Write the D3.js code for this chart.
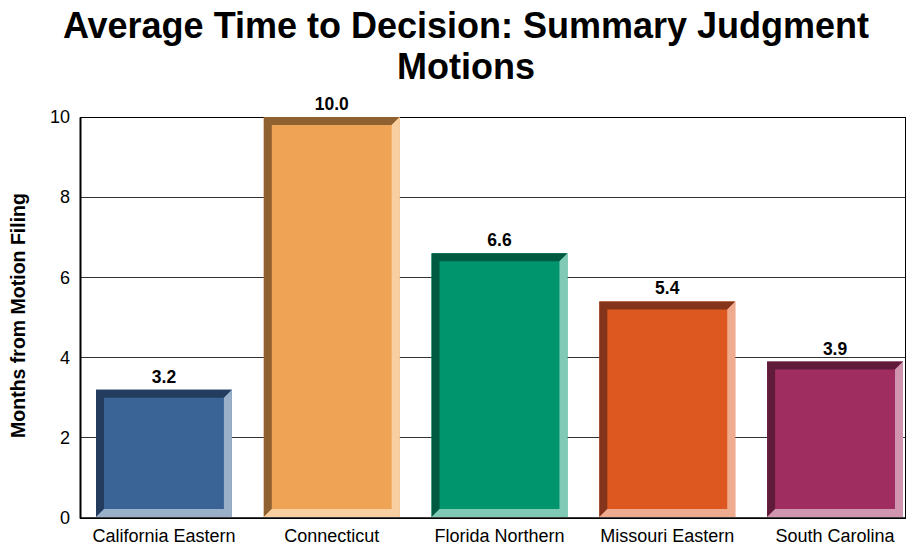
<!DOCTYPE html>
<html>
<head>
<meta charset="utf-8">
<script src="https://cdn.jsdelivr.net/npm/d3@7"></script>
<style>
  html, body { margin: 0; padding: 0; background: #fff; }
  svg { display: block; font-family: "Liberation Sans", Arial, sans-serif; }
</style>
</head>
<body>
<svg id="chart" width="914" height="548"></svg>
<script>
// Chart data
const districts = ["California Eastern", "Connecticut", "Florida Northern", "Missouri Eastern", "South Carolina"];
const months = [3.2, 10.0, 6.6, 5.4, 3.9];
const yTicks = [0, 2, 4, 6, 8, 10];
// Face, shadow (left/top) and highlight (right/bottom) colours per bar
const faceColors = ["#3a6496", "#efa355", "#00956d", "#dc5820", "#a02d60"];
const darkColors = ["#243d5e", "#8f6030", "#005a42", "#84341a", "#601b3a"];
const lightColors = ["#9ab0c8", "#f8cfa0", "#80c9b4", "#eeab90", "#d096af"];

const svg = d3.select("#chart");
const W = 914, H = 548;
const x0 = 80, x1 = 905;       // plot frame
const y0 = 518, y1 = 117;
const FONT = "Liberation Sans, Arial, sans-serif";

// Bars sit from 96 to 903 inside the frame
const x = d3.scaleBand().domain(districts).range([96, 903]).paddingInner(0.19).paddingOuter(0);
const y = d3.scaleLinear().domain([0, 10]).range([y0, y1]);

// Title
const title = svg.append("text")
  .attr("text-anchor", "middle")
  .attr("font-size", 36).attr("font-weight", "bold").attr("fill", "#000");
title.append("tspan").attr("x", 466).attr("y", 38).text("Average Time to Decision: Summary Judgment");
title.append("tspan").attr("x", 466).attr("y", 79).text("Motions");

// Gridlines
svg.append("g").selectAll("line")
  .data(yTicks.filter(t => t > 0 && t < 10))
  .join("line")
  .attr("x1", x0).attr("x2", x1)
  .attr("y1", d => y(d)).attr("y2", d => y(d))
  .attr("stroke", "#333").attr("stroke-width", 1)
  .attr("shape-rendering", "crispEdges");

// Plot frame
svg.append("rect")
  .attr("x", x0).attr("y", y1)
  .attr("width", x1 - x0).attr("height", y0 - y1)
  .attr("fill", "none").attr("stroke", "#000").attr("stroke-width", 1)
  .attr("shape-rendering", "crispEdges");

// Y axis
const yAxis = svg.append("g")
  .attr("transform", `translate(${x0},0)`)
  .call(d3.axisLeft(y).tickValues(yTicks).tickFormat(d3.format("d")).tickSize(0).tickPadding(10));
yAxis.select(".domain").attr("stroke", "#000").attr("stroke-width", 2);
yAxis.selectAll("text").attr("font-size", 18).attr("fill", "#000").attr("font-family", FONT);

// X axis
const xAxis = svg.append("g")
  .attr("transform", `translate(0,${y0})`)
  .call(d3.axisBottom(x).tickSize(0).tickPadding(11));
xAxis.select(".domain").attr("d", `M${x0},0H${x1}`).attr("stroke", "#000").attr("stroke-width", 1.5);
xAxis.selectAll("text").attr("font-size", 18).attr("fill", "#000").attr("font-family", FONT);

// Y axis title
svg.append("text")
  .attr("transform", `translate(25,${(y0 + y1) / 2 - 2}) rotate(-90)`)
  .attr("text-anchor", "middle")
  .attr("font-size", 19.5).attr("font-weight", "bold")
  .text("Months from Motion Filing");

// Bevelled bars
const bev = 8;
const bars = svg.append("g").selectAll("g")
  .data(districts.map((d, i) => ({ d, v: months[i], i })))
  .join("g");

bars.each(function (p) {
  const g = d3.select(this);
  const L = x(p.d), R = x(p.d) + x.bandwidth();
  const T = y(p.v), B = y(0) - 1;
  // face
  g.append("rect").attr("x", L).attr("y", T).attr("width", R - L).attr("height", B - T)
    .attr("fill", faceColors[p.i]);
  // left + top shadow
  g.append("polygon")
    .attr("points", [[L, B], [L, T], [R, T], [R - bev, T + bev], [L + bev, T + bev], [L + bev, B - bev]].join(" "))
    .attr("fill", darkColors[p.i]);
  // right + bottom highlight
  g.append("polygon")
    .attr("points", [[R, T], [R, B], [L, B], [L + bev, B - bev], [R - bev, B - bev], [R - bev, T + bev]].join(" "))
    .attr("fill", lightColors[p.i]);
  // value label
  g.append("text")
    .attr("x", (L + R) / 2).attr("y", T - 7)
    .attr("text-anchor", "middle")
    .attr("font-size", 17.5).attr("font-weight", "bold")
    .text(d3.format(".1f")(p.v));
});
</script>
</body>
</html>
